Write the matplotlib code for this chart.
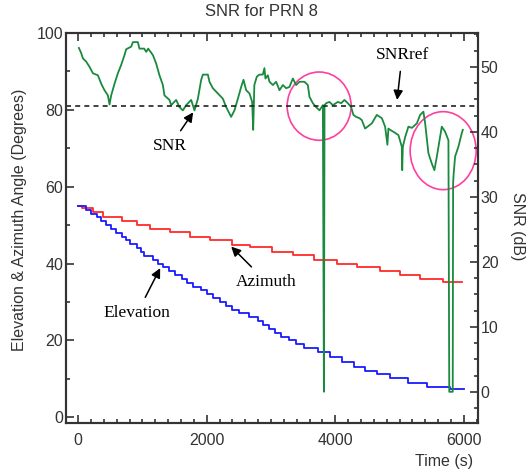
import matplotlib
matplotlib.use("Agg")
import matplotlib.pyplot as plt
from matplotlib.patches import Ellipse
from matplotlib.ticker import MultipleLocator

# elevation (deg), staircase: time of each step and value after it
elev_t = [0, 125, 205, 290, 355, 430, 515, 595, 675, 750, 800, 913, 970, 1030,
          1160, 1240, 1320, 1410, 1508, 1610, 1700, 1793, 1910, 2000, 2090, 2208,
          2300, 2390, 2500, 2660, 2790, 2870, 2965, 3060, 3160, 3280, 3390, 3520,
          3737, 3919, 4101, 4292, 4463, 4645, 4852, 5136, 5430, 5785, 6000]
elev_deg = [55, 54, 53, 52, 51, 50, 49, 48, 47, 46, 45, 44, 43, 42,
            41, 40, 39, 38, 37, 36, 35, 34, 33, 32, 31, 30,
            29, 28, 27, 26, 25, 24, 23, 22, 21, 20, 19, 18,
            17, 15.7, 14.4, 13.1, 12.1, 11.2, 10.3, 8.9, 7.9, 7.3, 7.3]

# azimuth (deg)
azim_t = [0, 62, 233, 389, 684, 918, 1120, 1431, 1742, 2053, 2395, 2675, 3017,
          3344, 3670, 4028, 4339, 4697, 5008, 5319, 5677, 5972]
azim_deg = [55.0, 54.5, 53.4, 52.0, 51.1, 50.0, 49.1, 48.1, 47.0, 46.1, 44.8,
            44.2, 43.1, 42.2, 40.9, 39.9, 39.0, 38.0, 37.0, 35.9, 35.1, 35.1]

# SNR (dB)
snr_t = [11, 47, 73, 124, 176, 229, 306, 358, 409, 462, 487, 513, 565, 617, 669,
         720, 746, 824, 851, 928, 953, 1026, 1058, 1089, 1162, 1213, 1264, 1317,
         1342, 1420, 1446, 1524, 1575, 1628, 1680, 1757, 1809, 1862, 1913, 1939,
         2017, 2042, 2095, 2173, 2250, 2302, 2379, 2431, 2484, 2535, 2571, 2613,
         2664, 2706, 2722, 2740, 2779, 2820, 2872, 2897, 2912, 2950, 2975, 3028,
         3079, 3131, 3184, 3235, 3286, 3339, 3390, 3442, 3519, 3572, 3597, 3650,
         3701, 3753, 3806, 3822, 3832, 3857, 3908, 3961, 4039, 4090, 4142, 4194,
         4246, 4281, 4323, 4375, 4412, 4463, 4530, 4568, 4645, 4723, 4774, 4810,
         4825, 4852, 4904, 4981, 5034, 5040, 5050, 5086, 5137, 5190, 5268, 5319,
         5370, 5397, 5448, 5501, 5541, 5579, 5630, 5656, 5708, 5759, 5772, 5826,
         5832, 5840, 5863, 5914, 5967, 5983]
snr_db = [52.9, 52.1, 51.3, 50.8, 50.0, 49.0, 48.7, 47.4, 46.4, 45.6, 44.2, 45.6,
          47.4, 49.0, 50.3, 51.8, 52.7, 53.1, 53.8, 53.8, 52.8, 52.8, 52.3, 52.8,
          51.8, 50.5, 48.7, 47.2, 45.6, 44.9, 44.1, 44.9, 43.8, 43.3, 44.1, 44.9,
          43.3, 45.1, 48.0, 48.8, 48.8, 47.7, 46.7, 45.9, 45.1, 43.8, 42.3, 43.3,
          45.1, 46.9, 48.0, 46.4, 45.9, 44.6, 40.3, 47.2, 48.5, 48.8, 48.8, 49.8,
          48.2, 48.7, 47.7, 47.2, 47.7, 46.4, 47.2, 46.7, 46.9, 48.2, 47.2, 47.7,
          47.7, 47.2, 45.4, 44.4, 43.8, 43.3, 44.1, 0.0, 44.1, 44.4, 44.6, 44.1,
          44.6, 44.4, 44.9, 44.4, 43.8, 42.6, 42.3, 42.1, 41.8, 40.5, 41.0, 41.3,
          42.6, 42.1, 40.8, 38.0, 40.5, 40.3, 40.0, 39.5, 37.7, 34.1, 37.7, 39.2,
          40.8, 40.6, 41.3, 42.6, 43.1, 41.3, 36.7, 35.1, 34.1, 36.2, 39.2, 40.8,
          40.0, 38.7, 0.0, 0.0, 32.1, 33.5, 36.2, 37.7, 39.8, 40.3]
snr_ref = 44

txt = '#333333'
fig = plt.figure(figsize=(5.3, 4.75), dpi=100)
ax = fig.add_axes([0.1245, 0.1095, 0.7775, 0.821])
ax2 = ax.twinx()

ax.step(azim_t, azim_deg, where='post', color='#ff2a2a', lw=1.3)
ax.step(elev_t, elev_deg, where='post', color='#1a1aff', lw=1.3)
ax2.plot(snr_t, snr_db, color='#1a8a3e', lw=1.3)
ax2.axhline(snr_ref, color='#222222', ls=(0, (3, 2.5)), lw=1.2)

ax.set_xlim(-190, 6220)
ax.set_ylim(-1.5, 100)
ax2.set_ylim(-4.8, 55.2)

ax.xaxis.set_major_locator(MultipleLocator(2000))
ax.xaxis.set_minor_locator(MultipleLocator(200))
ax.yaxis.set_major_locator(MultipleLocator(20))
ax.yaxis.set_minor_locator(MultipleLocator(10))
ax2.yaxis.set_major_locator(MultipleLocator(10))
ax2.yaxis.set_minor_locator(MultipleLocator(2.5))

ax.tick_params(which='both', direction='in', top=True, right=False,
               colors=txt, labelsize=11.5, width=1.2)
ax.tick_params(which='major', length=6)
ax.tick_params(which='minor', length=3)
ax.tick_params(axis='y', pad=2)
ax.tick_params(axis='x', pad=7)
ax2.tick_params(which='both', direction='in', colors=txt, labelsize=11.5,
                width=1.2, pad=2)
ax2.tick_params(which='major', length=6)
ax2.tick_params(which='minor', length=3)
for a in (ax, ax2):
    for s in a.spines.values():
        s.set_color(txt)
        s.set_linewidth(1.5)

for a in fig.axes:
    for lab in a.get_xticklabels() + a.get_yticklabels():
        lab.set_fontfamily('Liberation Sans')

fig.text(261 / 530, 1 - 12 / 475, 'SNR for PRN 8', ha='center', va='center',
         fontsize=12, color=txt, family='Liberation Sans')
fig.text(20 / 530, 1 - 220 / 475, 'Elevation & Azimuth Angle (Degrees)',
         rotation=90, ha='center', va='center', fontsize=11.5, color=txt,
         family='Liberation Sans')
fig.text(518 / 530, 1 - 226 / 475, 'SNR (dB)', rotation=270, ha='center',
         va='center', fontsize=11.5, color=txt, family='Liberation Sans')
ax.text(0.988, -0.1, 'Time (s)', transform=ax.transAxes, ha='right',
        va='center', fontsize=11.5, color=txt, family='Liberation Sans')

arr = dict(arrowstyle='-|>', color='black', lw=1.1, mutation_scale=14,
           shrinkA=4, shrinkB=0)
serif = dict(family='Liberation Serif', fontsize=12.5, ha='center', va='center')
ax2.annotate('SNR', xy=(1788, 43.0), xytext=(1430, 37.8), arrowprops=arr, **serif)
ax2.annotate('SNRref', xy=(4961, 44.9), xytext=(5039, 51.8), arrowprops=arr, **serif)
ax.annotate('Elevation', xy=(1275, 38.8), xytext=(918, 27.1), arrowprops=arr, **serif)
ax.annotate('Azimuth', xy=(2380, 44.4), xytext=(2924, 35.3), arrowprops=arr, **serif)

ax2.add_patch(Ellipse((3748, 43.95), 995, 10.5, fill=False, ec='#ff3f9f', lw=1.2))
ax2.add_patch(Ellipse((5677, 37.1), 1026, 12.0, fill=False, ec='#ff3f9f', lw=1.2))

fig.savefig('out.png', dpi=100)
